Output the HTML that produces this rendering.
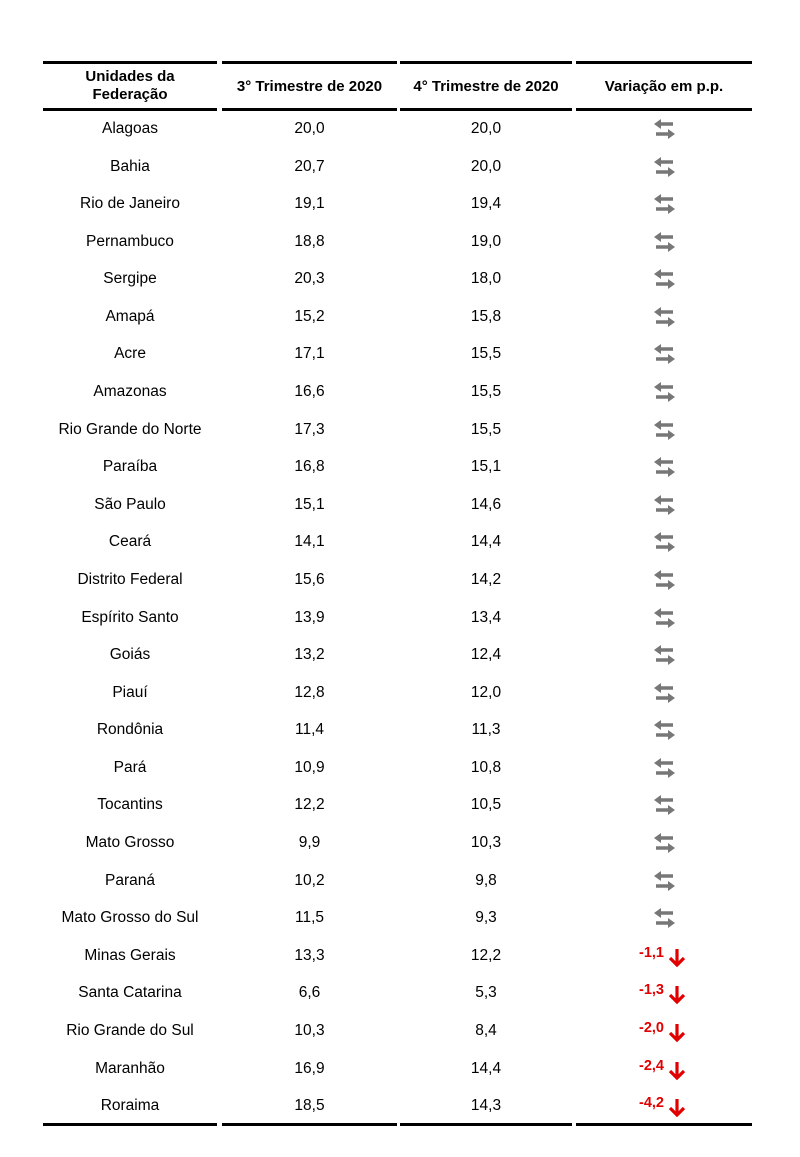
<!DOCTYPE html>
<html><head><meta charset="utf-8"><style>
body{margin:0;background:#fff;width:800px;height:1157px;position:relative;font-family:"Liberation Sans",sans-serif;color:#000;overflow:hidden}
.l{position:absolute;background:#000}
.t{position:absolute;text-align:center;font-size:15.5px;line-height:18px;transform:translateY(-50%)}
.h{font-weight:bold;font-size:15px}
svg{position:absolute}
.r{position:absolute;color:#e00000;font-weight:bold;font-size:14.5px;transform:translateY(-50%);text-align:right;width:60px;left:604px}
</style></head><body>
<div class="l" style="left:43px;top:61px;width:174px;height:3px"></div>
<div class="l" style="left:222px;top:61px;width:175px;height:3px"></div>
<div class="l" style="left:400px;top:61px;width:172px;height:3px"></div>
<div class="l" style="left:576px;top:61px;width:176px;height:3px"></div>
<div class="l" style="left:43px;top:108px;width:174px;height:3px"></div>
<div class="l" style="left:222px;top:108px;width:175px;height:3px"></div>
<div class="l" style="left:400px;top:108px;width:172px;height:3px"></div>
<div class="l" style="left:576px;top:108px;width:176px;height:3px"></div>
<div class="l" style="left:43px;top:1123px;width:174px;height:3px"></div>
<div class="l" style="left:222px;top:1123px;width:175px;height:3px"></div>
<div class="l" style="left:400px;top:1123px;width:172px;height:3px"></div>
<div class="l" style="left:576px;top:1123px;width:176px;height:3px"></div>
<div class="t h" style="left:43px;width:174px;top:86px">Unidades da<br>Federação</div>
<div class="t h" style="left:222px;width:175px;top:87px">3° Trimestre de 2020</div>
<div class="t h" style="left:400px;width:172px;top:87px">4° Trimestre de 2020</div>
<div class="t h" style="left:576px;width:176px;top:87px">Variação em p.p.</div>
<div id="rows"></div>
<script>
var d=[["Alagoas","20,0","20,0"],["Bahia","20,7","20,0"],["Rio de Janeiro","19,1","19,4"],["Pernambuco","18,8","19,0"],["Sergipe","20,3","18,0"],["Amapá","15,2","15,8"],["Acre","17,1","15,5"],["Amazonas","16,6","15,5"],["Rio Grande do Norte","17,3","15,5"],["Paraíba","16,8","15,1"],["São Paulo","15,1","14,6"],["Ceará","14,1","14,4"],["Distrito Federal","15,6","14,2"],["Espírito Santo","13,9","13,4"],["Goiás","13,2","12,4"],["Piauí","12,8","12,0"],["Rondônia","11,4","11,3"],["Pará","10,9","10,8"],["Tocantins","12,2","10,5"],["Mato Grosso","9,9","10,3"],["Paraná","10,2","9,8"],["Mato Grosso do Sul","11,5","9,3"],["Minas Gerais","13,3","12,2","-1,1"],["Santa Catarina","6,6","5,3","-1,3"],["Rio Grande do Sul","10,3","8,4","-2,0"],["Maranhão","16,9","14,4","-2,4"],["Roraima","18,5","14,3","-4,2"]];
var h="";
d.forEach(function(r,i){var y=129+i*37.58;
h+='<div class="t" style="left:43px;width:174px;top:'+y+'px">'+r[0]+'</div>';
h+='<div class="t" style="left:222px;width:175px;top:'+y+'px">'+r[1]+'</div>';
h+='<div class="t" style="left:400px;width:172px;top:'+y+'px">'+r[2]+'</div>';
if(r[3]){h+='<div class="r" style="top:'+(y-3)+'px">'+r[3]+'</div>';
h+='<svg style="left:668px;top:'+(y-8)+'px" width="18" height="20" viewBox="0 0 18 20"><path d="M9 1V17M2 10L9 17L16 10" stroke="#e00000" stroke-width="3.2" fill="none"/></svg>';}
else{h+='<svg style="left:653px;top:'+(y-10)+'px" width="24" height="20" viewBox="0 0 24 20"><path d="M7 5H20" stroke="#777" stroke-width="3.5"/><path d="M1 5L8 0V10Z" fill="#777"/><path d="M3 15H16" stroke="#777" stroke-width="3.5"/><path d="M22 15L15 10V20Z" fill="#777"/></svg>';}
});
document.getElementById("rows").innerHTML=h;
</script>
</body></html>
